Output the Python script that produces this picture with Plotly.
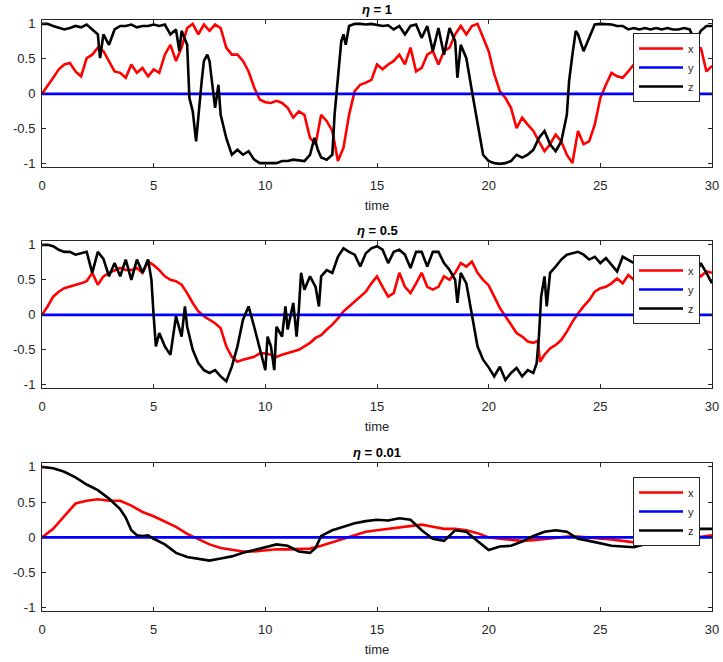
import plotly.graph_objects as go

# ---------------- data ----------------
# eta = 1
t_e1_x = [i * 0.25 for i in range(121)]
e1_x = [0, 0.11, 0.23, 0.35, 0.42, 0.44, 0.32, 0.25, 0.51, 0.56, 0.66, 0.61, 0.47, 0.32, 0.30, 0.23,
        0.42, 0.30, 0.37, 0.25, 0.35, 0.30, 0.56, 0.70, 0.47, 0.66, 0.94, 1.0, 0.85, 0.99, 0.90, 0.99,
        0.94, 0.66, 0.56, 0.56, 0.47, 0.32, 0.09, -0.08, -0.12, -0.13, -0.10, -0.13, -0.20, -0.34, -0.25, -0.30,
        -0.63, -0.72, -0.30, -0.39, -0.53, -0.96, -0.77, -0.30, 0.04, 0.13, 0.16, 0.20, 0.42, 0.35, 0.42, 0.47,
        0.56, 0.42, 0.66, 0.32, 0.37, 0.56, 0.61, 0.42, 0.61, 0.66, 0.85, 0.97, 0.85, 0.97, 1.0, 0.80,
        0.61, 0.28, 0.04, -0.06, -0.20, -0.49, -0.34, -0.44, -0.53, -0.68, -0.82, -0.72, -0.58, -0.68, -0.87, -0.99,
        -0.53, -0.72, -0.68, -0.44, -0.06, 0.13, 0.30, 0.25, 0.23, 0.32, 0.42, 0.40, 0.45, 0.40, 0.50, 0.44,
        0.45, 0.52, 0.55, 0.60, 0.65, 0.56, 0.66, 0.32, 0.40]
t_e1_z = [0, 0.25, 0.5, 0.75, 1, 1.25, 1.5, 1.75, 2, 2.25, 2.5, 2.6, 2.75, 3, 3.25, 3.5, 3.75, 4, 4.25, 4.5,
          4.75, 5, 5.25, 5.5, 5.75, 6, 6.15, 6.25, 6.5, 6.6, 6.75, 6.9, 7, 7.15, 7.25, 7.4, 7.5, 7.6, 7.75, 7.9,
          8, 8.25, 8.5, 8.75, 9, 9.25, 9.5, 9.75, 10, 10.25, 10.5, 10.75, 11, 11.25, 11.5, 11.75, 12, 12.2, 12.35, 12.5,
          12.75, 13, 13.1, 13.25, 13.4, 13.5, 13.6, 13.75, 14, 14.25, 14.5, 14.75, 15, 15.25, 15.5, 15.75, 16, 16.25,
          16.5, 16.75, 17, 17.25, 17.5, 17.75, 18, 18.25, 18.5, 18.6, 18.75, 19, 19.25, 19.5, 19.75, 20, 20.25,
          20.5, 20.75, 21, 21.25, 21.5, 21.75, 22, 22.25, 22.5, 22.75, 23, 23.25, 23.5, 23.6, 23.75, 23.9, 24,
          24.25, 24.5, 24.75, 25, 25.25, 25.5, 25.75, 26, 26.25, 26.5, 26.75, 27, 27.25, 27.5, 27.75, 28, 28.25,
          28.5, 28.75, 29, 29.25, 29.5, 29.75, 30]
e1_z = [1.0, 1.0, 0.97, 0.94, 0.92, 0.94, 0.97, 0.95, 0.99, 0.92, 0.85, 0.51, 0.85, 0.70, 0.92, 0.97, 0.97,
        0.99, 0.95, 0.97, 0.97, 0.99, 0.97, 0.99, 0.85, 0.92, 0.61, 0.90, 0.70, -0.06, -0.25, -0.68, -0.30, 0.18,
        0.47, 0.56, 0.47, 0.18, -0.20, 0.13, -0.30, -0.63, -0.87, -0.80, -0.87, -0.82, -0.94, -0.99, -0.99, -0.99,
        -0.99, -0.96, -0.96, -0.94, -0.95, -0.96, -0.87, -0.63, -0.80, -0.91, -0.94, -0.87, -0.30, 0.18, 0.75, 0.85,
        0.70, 0.97, 1.0, 1.0, 0.99, 1.0, 0.99, 0.97, 0.98, 0.92, 0.97, 0.85, 0.97, 0.99, 0.80, 0.97, 0.61, 0.94,
        0.56, 0.94, 0.75, 0.23, 0.70, 0.51, 0.04, -0.44, -0.87, -0.96, -0.99, -1.0, -0.99, -0.96, -0.87, -0.91,
        -0.87, -0.80, -0.63, -0.53, -0.72, -0.82, -0.68, -0.30, 0.18, 0.56, 0.90, 0.85, 0.61, 0.80, 0.99, 1.0,
        1.0, 0.99, 0.97, 0.97, 0.92, 0.94, 0.92, 0.94, 0.92, 0.94, 0.92, 0.94, 0.92, 0.92, 0.94, 0.92, 0.75,
        0.90, 0.97, 0.97]

# eta = 0.5
t_e2_x = [0, 0.25, 0.5, 0.75, 1, 1.25, 1.5, 1.75, 2, 2.25, 2.5, 2.75, 3, 3.25, 3.5, 3.75, 4, 4.25, 4.5, 4.75,
          5, 5.25, 5.5, 5.75, 6, 6.25, 6.5, 6.75, 7, 7.25, 7.5, 7.75, 8, 8.25, 8.5, 8.75, 9, 9.25, 9.5, 9.75,
          10, 10.25, 10.5, 10.75, 11, 11.25, 11.5, 11.75, 12, 12.25, 12.5, 12.75, 13, 13.25, 13.5, 13.75, 14,
          14.25, 14.5, 14.75, 15, 15.25, 15.5, 15.75, 16, 16.25, 16.5, 16.75, 17, 17.25, 17.5, 17.75, 18, 18.25,
          18.5, 18.75, 19, 19.25, 19.5, 19.75, 20, 20.25, 20.5, 20.75, 21, 21.25, 21.5, 21.75, 22, 22.2, 22.3,
          22.5, 22.75, 23, 23.25, 23.5, 23.75, 24, 24.25, 24.5, 24.75, 25, 25.25, 25.5, 25.75, 26, 26.25, 26.5,
          26.75, 27, 27.25, 27.5, 27.75, 28, 28.25, 28.5, 28.75, 29, 29.25, 29.5, 29.75, 30]
e2_x = [0, 0.12, 0.26, 0.33, 0.38, 0.40, 0.43, 0.45, 0.48, 0.60, 0.43, 0.55, 0.60, 0.64, 0.67, 0.64, 0.64,
        0.67, 0.60, 0.76, 0.71, 0.64, 0.55, 0.50, 0.48, 0.43, 0.31, 0.17, 0.05, -0.02, -0.07, -0.12, -0.19, -0.45,
        -0.60, -0.67, -0.64, -0.62, -0.60, -0.55, -0.55, -0.57, -0.60, -0.57, -0.55, -0.52, -0.50, -0.45, -0.40,
        -0.33, -0.29, -0.21, -0.14, -0.05, 0.05, 0.12, 0.19, 0.26, 0.33, 0.45, 0.55, 0.40, 0.26, 0.31, 0.60, 0.40,
        0.31, 0.45, 0.60, 0.40, 0.36, 0.40, 0.55, 0.50, 0.60, 0.74, 0.69, 0.76, 0.60, 0.50, 0.42, 0.26, 0.10,
        -0.02, -0.14, -0.26, -0.31, -0.38, -0.40, -0.37, -0.67, -0.57, -0.48, -0.43, -0.36, -0.24, -0.10, 0.02,
        0.12, 0.21, 0.33, 0.38, 0.40, 0.45, 0.52, 0.45, 0.57, 0.50, 0.55, 0.55, 0.58, 0.60, 0.57, 0.55, 0.58,
        0.60, 0.62, 0.62, 0.60, 0.55, 0.62, 0.60]
t_e2_z = [0, 0.25, 0.5, 0.75, 1, 1.25, 1.5, 1.75, 2, 2.25, 2.5, 2.75, 3, 3.25, 3.5, 3.75, 4, 4.25, 4.5, 4.75,
          4.9, 5, 5.1, 5.25, 5.5, 5.75, 6, 6.25, 6.4, 6.5, 6.75, 7, 7.25, 7.5, 7.75, 8, 8.25, 8.5, 8.75, 9, 9.25,
          9.5, 9.75, 10, 10.1, 10.25, 10.4, 10.5, 10.75, 10.9, 11, 11.25, 11.4, 11.5, 11.6, 11.75, 12, 12.25, 12.4,
          12.5, 12.75, 13, 13.25, 13.5, 13.75, 14, 14.25, 14.5, 14.75, 15, 15.25, 15.5, 15.75, 16, 16.25, 16.5,
          16.75, 17, 17.25, 17.5, 17.75, 18, 18.25, 18.5, 18.6, 18.75, 19, 19.25, 19.5, 19.75, 20, 20.25, 20.5,
          20.75, 21, 21.25, 21.5, 21.75, 22, 22.15, 22.25, 22.35, 22.5, 22.6, 22.75, 23, 23.25, 23.5, 23.75, 24,
          24.25, 24.5, 24.75, 25, 25.25, 25.5, 25.75, 26, 26.25, 26.5, 26.75, 27, 27.25, 27.5, 27.75, 28, 28.25,
          28.5, 28.75, 29, 29.25, 29.5, 29.75, 30]
e2_z = [1.0, 1.0, 0.98, 0.93, 0.90, 0.90, 0.86, 0.88, 0.90, 0.60, 0.90, 0.80, 0.55, 0.74, 0.55, 0.79, 0.50,
        0.79, 0.60, 0.79, 0.50, -0.02, -0.45, -0.26, -0.45, -0.57, -0.02, -0.31, 0.12, -0.17, -0.50, -0.69, -0.79,
        -0.83, -0.79, -0.88, -0.95, -0.74, -0.45, -0.07, 0.12, -0.17, -0.50, -0.79, -0.31, -0.45, -0.79, -0.17,
        -0.31, 0.12, -0.21, 0.17, -0.31, 0.07, 0.60, 0.36, 0.55, 0.40, 0.12, 0.55, 0.64, 0.60, 0.83, 0.95, 0.90,
        0.86, 0.69, 0.88, 0.95, 0.98, 0.93, 0.74, 0.90, 0.93, 0.86, 0.67, 0.90, 0.90, 0.69, 0.90, 0.90, 0.74,
        0.64, 0.50, 0.17, 0.60, 0.45, -0.02, -0.45, -0.64, -0.75, -0.88, -0.74, -0.93, -0.83, -0.76, -0.88, -0.79,
        -0.83, -0.69, -0.31, 0.26, 0.55, 0.12, 0.60, 0.69, 0.79, 0.86, 0.88, 0.90, 0.86, 0.79, 0.83, 0.74, 0.81,
        0.71, 0.62, 0.83, 0.79, 0.74, 0.80, 0.78, 0.72, 0.70, 0.75, 0.72, 0.68, 0.65, 0.72, 0.70, 0.55, 0.74,
        0.60, 0.45]

# eta = 0.01
t_e3 = [i * 0.5 for i in range(61)]
e3_x = [0, 0.12, 0.30, 0.48, 0.52, 0.54, 0.52, 0.52, 0.45, 0.36, 0.30, 0.23, 0.15, 0.05, -0.03, -0.10, -0.15,
        -0.18, -0.20, -0.20, -0.18, -0.17, -0.17, -0.16, -0.16, -0.12, -0.07, -0.02, 0.03, 0.08, 0.10, 0.12,
        0.15, 0.17, 0.18, 0.15, 0.12, 0.12, 0.10, 0.06, 0.0, -0.02, -0.04, -0.05, -0.04, -0.02, 0.0, 0.01,
        0.01, 0.0, -0.02, -0.03, -0.05, -0.07, -0.09, -0.08, -0.06, -0.04, -0.02, 0.0, 0.03]
t_e3_z = [0, 0.5, 1, 1.5, 2, 2.5, 3, 3.5, 3.75, 4, 4.25, 4.5, 4.75, 5, 5.5, 6, 6.5, 7, 7.5, 8, 8.5, 9, 9.5,
          10, 10.5, 11, 11.5, 12, 12.25, 12.5, 13, 13.5, 14, 14.5, 15, 15.5, 16, 16.5, 17, 17.5, 18, 18.5, 19,
          19.5, 20, 20.5, 21, 21.5, 22, 22.5, 23, 23.5, 24, 24.5, 25, 25.5, 26, 26.5, 27, 27.5, 28, 28.5, 29,
          29.5, 30]
e3_z = [1.0, 0.98, 0.93, 0.85, 0.75, 0.67, 0.55, 0.40, 0.28, 0.10, 0.03, 0.02, 0.03, -0.02, -0.10, -0.22,
        -0.28, -0.30, -0.33, -0.30, -0.27, -0.22, -0.18, -0.14, -0.10, -0.12, -0.20, -0.22, -0.15, 0.02, 0.10,
        0.15, 0.20, 0.23, 0.25, 0.24, 0.27, 0.25, 0.10, -0.02, -0.05, 0.10, 0.08, -0.05, -0.18, -0.13, -0.12,
        -0.06, 0.02, 0.08, 0.10, 0.08, -0.02, -0.05, -0.08, -0.12, -0.13, -0.14, -0.10, 0.0, 0.0, 0.02, 0.05,
        0.12, 0.12]

t_y = [0, 30]
y_zero = [0.0, 0.0]

titles = ["<b><i>η</i> = 1</b>", "<b><i>η</i> = 0.5</b>", "<b><i>η</i> = 0.01</b>"]
x_ticks = [0, 5, 10, 15, 20, 25, 30]
y_ticks = [-1, -0.5, 0, 0.5, 1]
y_tick_text = ["-1", "-0.5", "0", "0.5", "1"]
series_names = ["x", "y", "z"]

panels = [
    (t_e1_x, e1_x, t_e1_z, e1_z),
    (t_e2_x, e2_x, t_e2_z, e2_z),
    (t_e3, e3_x, t_e3_z, e3_z),
]

# ---------------- layout ----------------
W, H = 723, 662
x_dom = [42 / W, 712 / W]
frames_px = [(20, 167), (241, 388), (463, 611)]
legend_top_px = [33, 255, 477]
FONT = "Liberation Sans, Arial, sans-serif"
AX = "#262626"

fig = go.Figure()
layout = dict(
    width=W, height=H, margin=dict(l=0, r=0, t=0, b=0, autoexpand=False),
    paper_bgcolor="white", plot_bgcolor="white",
    font=dict(family=FONT, size=13, color=AX),
    showlegend=True, annotations=[],
)

for i, (tx, xv, tz, zv) in enumerate(panels):
    n = "" if i == 0 else str(i + 1)
    xa, ya = "x" + n, "y" + n
    lg = "legend" + n
    cols = ["#ff0000", "#0000ff", "#000000"]
    data = [(tx, xv), (t_y, y_zero), (tz, zv)]
    for (tt, vv), c, nm in zip(data, cols, series_names):
        fig.add_trace(go.Scatter(x=tt, y=vv, mode="lines", name=nm,
                                 line=dict(color=c, width=2.6), xaxis=xa, yaxis=ya,
                                 legend=lg, showlegend=True))
    top, bot = frames_px[i]
    dom = [1 - bot / H, 1 - top / H]
    layout["xaxis" + n] = dict(
        domain=x_dom, anchor=ya, range=[0, 30], tickvals=x_ticks, automargin=False,
        ticks="inside", ticklen=4, tickcolor=AX, showline=True, linecolor=AX, linewidth=1,
        mirror="ticks", showgrid=False, zeroline=False, ticklabelstandoff=6,
        tickfont=dict(size=13, color=AX, family=FONT),
        title=dict(text="time", font=dict(size=13, color=AX, family=FONT), standoff=9),
    )
    layout["yaxis" + n] = dict(
        domain=dom, anchor=xa, range=[-1.045, 1.055], tickvals=y_ticks, ticktext=y_tick_text,
        automargin=False,
        ticks="inside", ticklen=4, tickcolor=AX, showline=True, linecolor=AX, linewidth=1,
        mirror="ticks", showgrid=False, zeroline=False, ticklabelstandoff=3,
        tickfont=dict(size=13, color=AX, family=FONT),
    )
    layout[lg] = dict(
        x=633 / W, xanchor="left", y=1 - legend_top_px[i] / H, yanchor="top",
        bgcolor="white", bordercolor=AX, borderwidth=1,
        font=dict(size=11, color=AX, family=FONT), itemwidth=44,
        tracegroupgap=0,
    )
    layout["annotations"].append(dict(
        text=titles[i], x=(x_dom[0] + x_dom[1]) / 2, xref="paper", xanchor="center",
        y=1 - (top - 11) / H, yref="paper", yanchor="middle", showarrow=False,
        font=dict(size=13, color="black", family=FONT),
    ))

fig.update_layout(**layout)
fig.write_html("out.html", config={"displayModeBar": False},
               post_script="document.body.style.margin='0';document.body.style.overflow='hidden';")
